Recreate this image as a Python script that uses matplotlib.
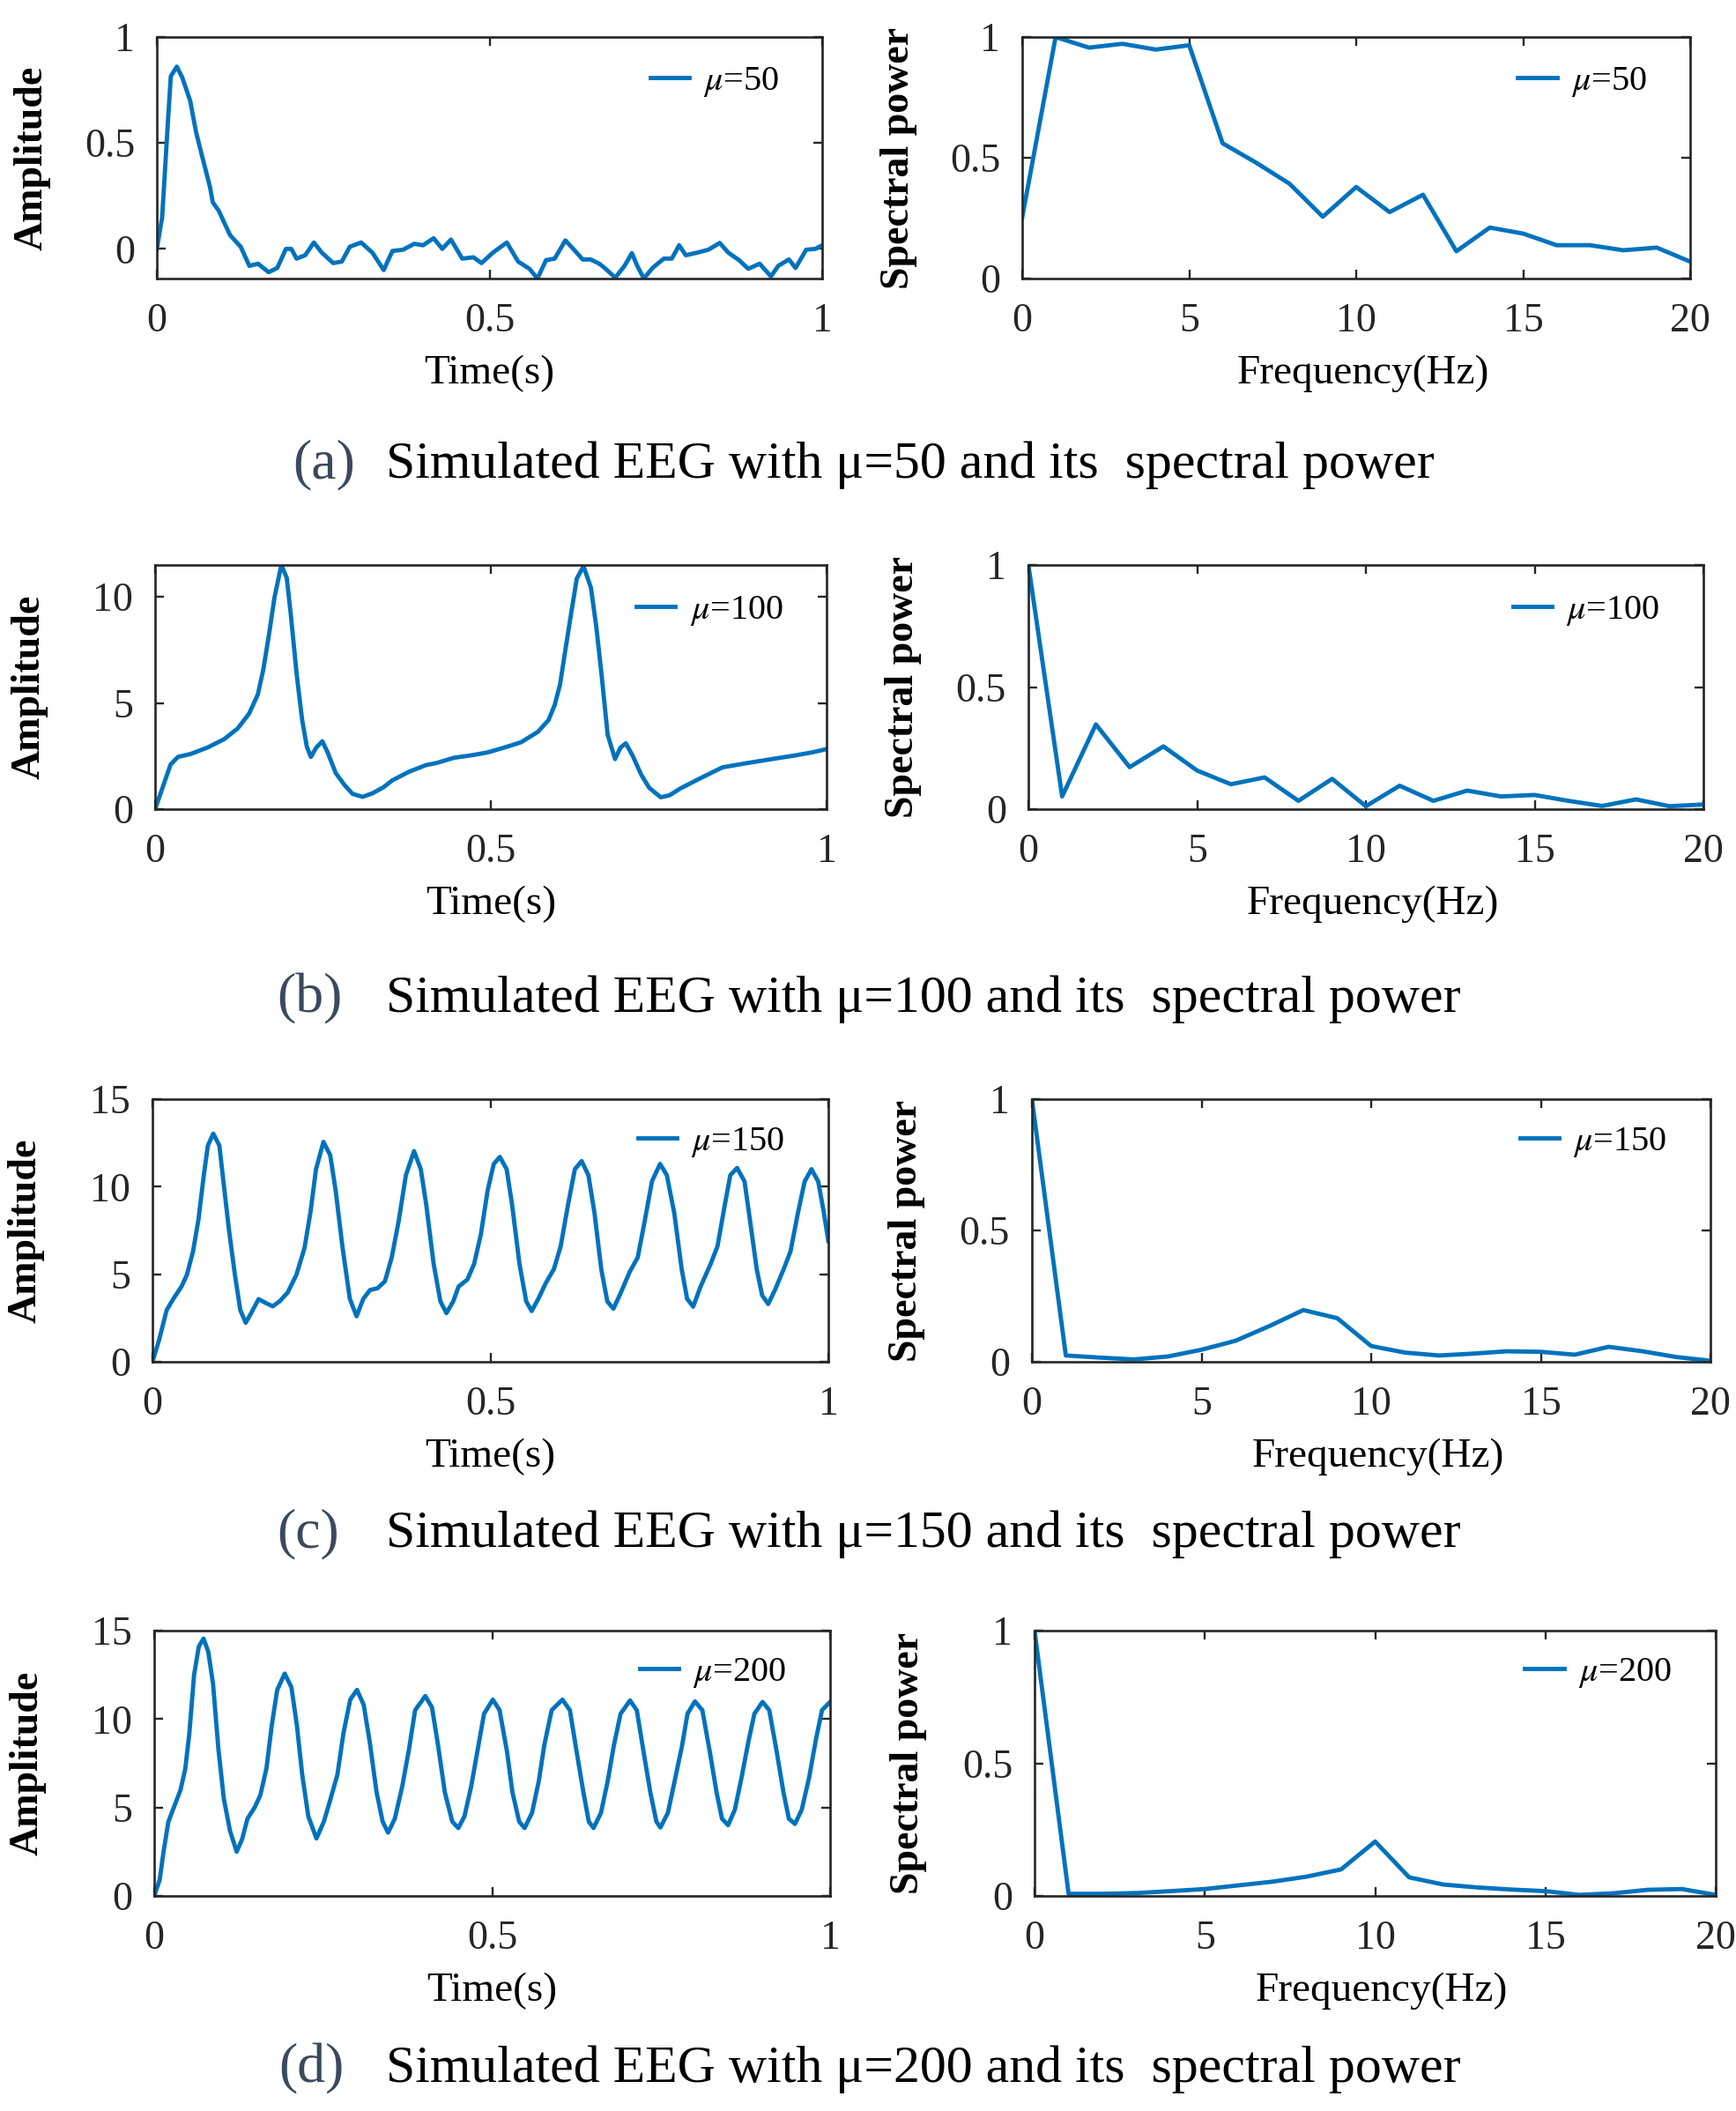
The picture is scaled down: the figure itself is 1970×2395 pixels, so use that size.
import matplotlib
matplotlib.use('Agg')
import matplotlib.pyplot as plt
import numpy as np

plt.rcParams['font.family'] = ['Liberation Serif', 'DejaVu Serif']
plt.rcParams['mathtext.fontset'] = 'stix'

# ---- data ----
freq = list(range(21))

# (a) mu = 50
t_a = [0, 0.008, 0.017, 0.021, 0.03, 0.038, 0.05, 0.059, 0.067, 0.08, 0.084, 0.093, 0.11, 0.126,
       0.139, 0.152, 0.168, 0.181, 0.194, 0.202, 0.21, 0.223, 0.236, 0.248, 0.265, 0.278, 0.29,
       0.307, 0.324, 0.341, 0.354, 0.37, 0.387, 0.4, 0.416, 0.429, 0.442, 0.459, 0.476, 0.488,
       0.505, 0.526, 0.543, 0.56, 0.572, 0.585, 0.598, 0.614, 0.627, 0.64, 0.652, 0.665, 0.673,
       0.689, 0.703, 0.714, 0.722, 0.732, 0.745, 0.762, 0.774, 0.785, 0.795, 0.812, 0.829, 0.846,
       0.859, 0.875, 0.889, 0.906, 0.923, 0.934, 0.95, 0.96, 0.976, 0.99, 1.0]
amp_a = [0, 0.15, 0.62, 0.815, 0.86, 0.81, 0.70, 0.55, 0.45, 0.29, 0.22, 0.18, 0.065, 0.01,
         -0.08, -0.07, -0.11, -0.09, 0.0, 0.0, -0.046, -0.03, 0.03, -0.018, -0.067, -0.06, 0.01,
         0.03, -0.018, -0.10, -0.01, -0.004, 0.024, 0.017, 0.05, 0.0, 0.044, -0.046, -0.04, -0.067,
         -0.018, 0.03, -0.06, -0.094, -0.14, -0.053, -0.046, 0.04, -0.004, -0.05, -0.05, -0.07, -0.09,
         -0.136, -0.08, -0.02, -0.08, -0.14, -0.09, -0.046, -0.046, 0.017, -0.03, -0.018, -0.004, 0.028,
         -0.018, -0.053, -0.094, -0.07, -0.13, -0.08, -0.05, -0.09, -0.004, 0.0, 0.017]
pow_a = [0.253, 1.0, 0.956, 0.972, 0.948, 0.966, 0.56, 0.48, 0.393, 0.256, 0.379, 0.275, 0.347,
         0.113, 0.211, 0.186, 0.138, 0.138, 0.117, 0.128, 0.07]

# (b) mu = 100
t_b = [0, 0.011, 0.023, 0.034, 0.053, 0.078, 0.103, 0.123, 0.14, 0.153, 0.161, 0.169, 0.178, 0.188,
       0.196, 0.202, 0.211, 0.219, 0.226, 0.232, 0.24, 0.249, 0.257, 0.269, 0.282, 0.294, 0.309,
       0.324, 0.34, 0.353, 0.378, 0.403, 0.42, 0.445, 0.47, 0.495, 0.52, 0.545, 0.57, 0.586, 0.595,
       0.603, 0.611, 0.62, 0.628, 0.638, 0.649, 0.657, 0.665, 0.674, 0.685, 0.693, 0.701, 0.711,
       0.724, 0.736, 0.753, 0.766, 0.782, 0.811, 0.845, 0.878, 0.911, 0.953, 0.978, 1.0]
amp_b = [0, 1.0, 2.1, 2.46, 2.6, 2.9, 3.3, 3.8, 4.5, 5.4, 6.55, 8.1, 10.0, 11.5,
         10.9, 9.2, 6.3, 4.2, 2.94, 2.46, 2.9, 3.2, 2.67, 1.7, 1.14, 0.72, 0.58,
         0.75, 1.03, 1.35, 1.76, 2.07, 2.18, 2.42, 2.53, 2.67, 2.9, 3.15, 3.64, 4.2, 4.9,
         5.86, 7.5, 9.3, 10.86, 11.44, 10.44, 8.6, 6.3, 3.5, 2.36, 2.9, 3.1, 2.53,
         1.62, 1.0, 0.56, 0.65, 0.97, 1.44, 1.97, 2.15, 2.32, 2.53, 2.67, 2.83]
pow_b = [1.0, 0.052, 0.347, 0.172, 0.257, 0.158, 0.102, 0.13, 0.034, 0.124, 0.012, 0.096, 0.034,
         0.076, 0.052, 0.058, 0.034, 0.013, 0.04, 0.012, 0.019]

# (c) mu = 150
t_c = [0, 0.01, 0.021, 0.031, 0.043, 0.051, 0.06, 0.068, 0.076, 0.082, 0.09, 0.099, 0.105, 0.113,
       0.122, 0.13, 0.138, 0.146, 0.157, 0.167, 0.178, 0.188, 0.2, 0.213, 0.225, 0.234, 0.242,
       0.253, 0.263, 0.271, 0.281, 0.292, 0.302, 0.312, 0.322, 0.333, 0.344, 0.354, 0.364, 0.375,
       0.387, 0.397, 0.405, 0.416, 0.426, 0.435, 0.445, 0.453, 0.466, 0.476, 0.486, 0.496, 0.505,
       0.514, 0.524, 0.532, 0.543, 0.553, 0.561, 0.571, 0.582, 0.594, 0.604, 0.615, 0.625, 0.635,
       0.645, 0.654, 0.664, 0.673, 0.682, 0.693, 0.706, 0.718, 0.728, 0.739, 0.751, 0.761, 0.772,
       0.783, 0.791, 0.8, 0.811, 0.826, 0.836, 0.847, 0.855, 0.865, 0.876, 0.884, 0.894, 0.902,
       0.911, 0.921, 0.934, 0.944, 0.955, 0.965, 0.975, 0.985, 0.993, 1.0]
amp_c = [0, 1.27, 2.95, 3.6, 4.3, 4.97, 6.3, 8.1, 10.66, 12.35, 13.03, 12.35, 10.3, 7.6,
         4.97, 2.95, 2.23, 2.78, 3.58, 3.37, 3.17, 3.45, 3.95, 4.97, 6.5, 8.6, 11.0,
         12.56, 11.8, 9.8, 6.6, 3.6, 2.6, 3.6, 4.1, 4.2, 4.6, 5.96, 7.97, 10.66,
         12.03, 11.0, 9.0, 5.6, 3.45, 2.78, 3.45, 4.3, 4.7, 5.6, 7.3, 9.8, 11.3,
         11.7, 11.0, 9.0, 5.6, 3.45, 2.9, 3.6, 4.5, 5.3, 6.6, 9.0, 11.0, 11.46,
         10.66, 8.5, 5.3, 3.45, 3.03, 3.95, 5.13, 5.96, 7.97, 10.3, 11.3, 10.66, 8.5,
         5.3, 3.6, 3.15, 4.3, 5.6, 6.6, 9.0, 10.66, 11.07, 10.3, 8.1, 5.3, 3.8,
         3.3, 4.1, 5.3, 6.3, 8.5, 10.3, 11.0, 10.3, 8.6, 6.9]
pow_c = [1.0, 0.024, 0.016, 0.009, 0.02, 0.046, 0.08, 0.136, 0.197, 0.166, 0.06, 0.035, 0.024,
         0.031, 0.04, 0.038, 0.027, 0.057, 0.04, 0.018, 0.004]

# (d) mu = 200
t_d = [0, 0.008, 0.014, 0.021, 0.031, 0.039, 0.046, 0.052, 0.059, 0.066, 0.073, 0.08, 0.087, 0.095,
       0.103, 0.112, 0.122, 0.13, 0.138, 0.149, 0.157, 0.166, 0.174, 0.182, 0.193, 0.203, 0.211,
       0.219, 0.228, 0.24, 0.251, 0.261, 0.271, 0.28, 0.29, 0.3, 0.31, 0.319, 0.329, 0.338, 0.346,
       0.356, 0.367, 0.377, 0.386, 0.401, 0.411, 0.42, 0.43, 0.441, 0.45, 0.459, 0.469, 0.478,
       0.488, 0.501, 0.511, 0.522, 0.53, 0.54, 0.548, 0.559, 0.569, 0.577, 0.588, 0.604, 0.615,
       0.625, 0.635, 0.643, 0.65, 0.661, 0.671, 0.68, 0.69, 0.704, 0.714, 0.724, 0.734, 0.743,
       0.749, 0.76, 0.77, 0.781, 0.789, 0.8, 0.811, 0.822, 0.832, 0.84, 0.849, 0.859, 0.869,
       0.879, 0.888, 0.9, 0.91, 0.921, 0.931, 0.939, 0.948, 0.958, 0.969, 0.979, 0.988, 1.0]
amp_d = [0, 0.9, 2.55, 4.2, 5.2, 6.0, 7.2, 9.2, 12.5, 14.1, 14.55, 13.8, 12.0, 8.3,
         5.5, 3.7, 2.5, 3.2, 4.37, 5.03, 5.7, 7.2, 9.67, 11.65, 12.57, 11.8, 9.67,
         6.85, 4.5, 3.25, 4.2, 5.5, 6.85, 9.2, 11.1, 11.65, 10.8, 8.67, 5.86, 4.2, 3.58,
         4.37, 6.2, 8.3, 10.5, 11.3, 10.66, 8.5, 5.86, 4.2, 3.84, 4.5, 6.2, 8.15,
         10.3, 11.1, 10.5, 8.15, 5.86, 4.2, 3.84, 4.7, 6.5, 8.5, 10.5, 11.1, 10.5,
         8.15, 5.86, 4.2, 3.84, 4.7, 6.5, 8.5, 10.3, 11.05, 10.5, 8.15, 5.86, 4.2,
         3.87, 4.7, 6.5, 8.5, 10.3, 11.0, 10.5, 8.15, 5.86, 4.37, 4.0, 4.87, 6.7,
         8.7, 10.3, 10.97, 10.5, 8.15, 5.86, 4.37, 4.07, 4.87, 6.7, 8.84, 10.5, 10.97]
pow_d = [1.0, 0.008, 0.008, 0.011, 0.018, 0.026, 0.04, 0.054, 0.073, 0.10, 0.205, 0.07, 0.043,
         0.032, 0.024, 0.018, 0.004, 0.01, 0.023, 0.026, 0.004]

mus = ['50', '100', '150', '200']
letters = ['a', 'b', 'c', 'd']
time_series = [(t_a, amp_a), (t_b, amp_b), (t_c, amp_c), (t_d, amp_d)]
powers = [pow_a, pow_b, pow_c, pow_d]
amp_ylims = [(-0.14, 1), (0, 11.5), (0, 15), (0, 15)]
amp_yticks = [[0, 0.5, 1], [0, 5, 10], [0, 5, 10, 15], [0, 5, 10, 15]]

# ---- layout (pixel boxes: x0, x1, y_top, y_bottom) ----
W, H = 1970, 2395
left_boxes = [(178, 933, 42, 316), (176, 938, 641, 918), (173, 940, 1247, 1545), (175, 942, 1850, 2151)]
right_boxes = [(1160, 1918, 42, 316), (1167, 1933, 641, 918), (1171, 1941, 1247, 1545), (1174, 1947, 1850, 2151)]
legend_y = [0.814, 0.812, 0.836, 0.84]
caption_base = [542, 1148, 1755, 2362]
caption_lx = [332, 314, 314, 316]

blue = '#0072BD'
ink = '#262626'


def fmt(v):
    return ('%g' % v)


def make_ax(fig, box):
    x0, x1, yt, yb = box
    ax = fig.add_axes([x0 / W, 1 - yb / H, (x1 - x0) / W, (yb - yt) / H])
    for s in ax.spines.values():
        s.set_linewidth(1.9)
        s.set_color(ink)
    ax.tick_params(direction='in', top=True, right=True, length=7, width=1.7,
                   labelsize=33, colors=ink)
    ax.tick_params(axis='x', pad=20)
    ax.tick_params(axis='y', pad=18)
    return ax, yb - yt


def add_legend(ax, y):
    ax.legend(loc='center right', bbox_to_anchor=(0.935, y), frameon=False,
              fontsize=29, handlelength=1.1, handletextpad=0.4, borderpad=0, borderaxespad=0)


fig = plt.figure(figsize=(W / 100, H / 100), dpi=100)

for i in range(4):
    # time signal
    ax, hpx = make_ax(fig, left_boxes[i])
    t, y = time_series[i]
    ax.plot(t, y, color=blue, lw=3.5, solid_joinstyle='round', label=r'$\mu$=' + mus[i])
    ax.set_xlim(0, 1)
    ax.set_ylim(*amp_ylims[i])
    ax.set_xticks([0, 0.5, 1])
    ax.set_xticklabels([fmt(v) for v in [0, 0.5, 1]])
    ax.set_yticks(amp_yticks[i])
    ax.set_yticklabels([fmt(v) for v in amp_yticks[i]])
    ax.set_xlabel('Time(s)', fontsize=34, color='black', va='center')
    ax.set_ylabel('Amplitude', fontsize=33, fontweight='bold', color='black', va='center')
    ax.xaxis.set_label_coords(0.5, -108 / hpx)
    ax.yaxis.set_label_coords(-0.187, 0.5)
    add_legend(ax, legend_y[i])

    # spectral power
    ax, hpx = make_ax(fig, right_boxes[i])
    ax.plot(freq, powers[i], color=blue, lw=3.5, solid_joinstyle='round', label=r'$\mu$=' + mus[i])
    ax.set_xlim(0, 20)
    ax.set_ylim(0, 1)
    ax.set_xticks([0, 5, 10, 15, 20])
    ax.set_yticks([0, 0.5, 1])
    ax.set_yticklabels([fmt(v) for v in [0, 0.5, 1]])
    ax.set_xlabel('Frequency(Hz)', fontsize=34, color='black', va='center')
    ax.set_ylabel('Spectral power', fontsize=33, fontweight='bold', color='black', va='center')
    ax.xaxis.set_label_coords(0.51, -108 / hpx)
    ax.yaxis.set_label_coords(-0.185, 0.5)
    add_legend(ax, legend_y[i])

    # caption
    yb = 1 - caption_base[i] / H
    fig.text(caption_lx[i] / W, yb, '(%s)' % letters[i], fontsize=46, color='#3a4a5c', va='baseline')
    fig.text(438 / W, yb, 'Simulated EEG with \u03bc=%s and its  spectral power' % mus[i],
             fontsize=43, color='black', va='baseline')

fig.savefig('out.png', dpi=100)
